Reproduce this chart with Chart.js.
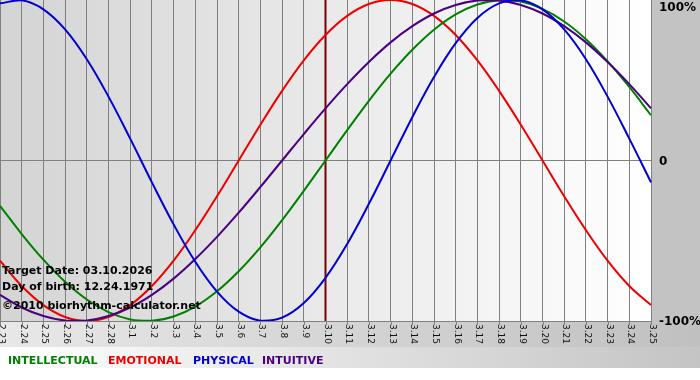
<!DOCTYPE html>
<html>
<head>
<meta charset="utf-8">
<script src="https://cdn.jsdelivr.net/npm/chart.js@4/dist/chart.umd.min.js"></script>
<style>
  html, body { margin: 0; padding: 0; background: #ffffff; }
  #wrap { width: 700px; height: 380px; position: relative; }
</style>
</head>
<body>
<div id="wrap"><canvas id="c" width="700" height="380"></canvas></div>
<script>
// ---- data ----
const dates = ['2.23','2.24','2.25','2.26','2.27','2.28','3.1','3.2','3.3','3.4','3.5','3.6','3.7','3.8','3.9','3.10',
               '3.11','3.12','3.13','3.14','3.15','3.16','3.17','3.18','3.19','3.20','3.21','3.22','3.23','3.24','3.25'];
const intellectual = [-0.282,-0.458,-0.618,-0.756,-0.866,-0.945,-0.990,-0.999,-0.972,-0.910,-0.815,-0.690,-0.541,-0.372,-0.189,
                      0.000,0.189,0.372,0.541,0.690,0.815,0.910,0.972,0.999,0.990,0.945,0.866,0.756,0.618,0.458,0.282];
const emotional = [-0.624,-0.782,-0.901,-0.975,-1.000,-0.975,-0.901,-0.782,-0.624,-0.434,-0.223,0.000,0.223,0.434,0.624,
                   0.782,0.901,0.975,1.000,0.975,0.901,0.782,0.624,0.434,0.223,0.000,-0.223,-0.434,-0.624,-0.782,-0.901];
const physical = [0.979,0.998,0.942,0.817,0.631,0.398,0.136,-0.136,-0.398,-0.631,-0.817,-0.942,-0.998,-0.979,-0.888,
                  -0.731,-0.520,-0.270,0.000,0.270,0.520,0.731,0.888,0.979,0.998,0.942,0.817,0.631,0.398,0.136,-0.136];
const intuitive = [-0.837,-0.916,-0.969,-0.997,-0.997,-0.969,-0.916,-0.837,-0.736,-0.614,-0.476,-0.325,-0.165,
                   0.000,0.165,0.325,0.476,0.614,0.736,0.837,0.916,0.969,0.997,0.997,0.969,0.916,0.837,0.736,0.614,0.476,0.325];
const seriesNames = ['INTELLECTUAL','EMOTIONAL','PHYSICAL','INTUITIVE'];
const yTickLabels = ['100%','0','-100%'];
const yTickValues = [1, 0, -1];
const targetDate = '3.10';
const infoLines = ['Target Date: 03.10.2026','Day of birth: 12.24.1971','\u00A92010 biorhythm-calculator.net'];

const colors = { INTELLECTUAL:'#008000', EMOTIONAL:'#ee0000', PHYSICAL:'#0000d0', INTUITIVE:'#4b0082' };
const FONT = '"DejaVu Sans", Verdana, sans-serif';

const decor = {
  id: 'decor',
  beforeDraw(chart) {
    const ctx = chart.ctx, a = chart.chartArea;
    ctx.save();
    // bottom label band
    let g = ctx.createLinearGradient(0, 0, 700, 0);
    g.addColorStop(0, '#e8e8e8'); g.addColorStop(1, '#c0c0c0');
    ctx.fillStyle = g;
    ctx.fillRect(0, a.bottom, 700, 347 - a.bottom);
    // legend band
    g = ctx.createLinearGradient(0, 0, 700, 0);
    g.addColorStop(0, '#ffffff'); g.addColorStop(1, '#c4c4c4');
    ctx.fillStyle = g;
    ctx.fillRect(0, 347, 700, 21);
    // right panel
    ctx.fillStyle = '#c3c3c3';
    ctx.fillRect(a.right, 0, 700 - a.right, a.bottom);
    // plot background
    g = ctx.createLinearGradient(a.left, 0, a.right, 0);
    g.addColorStop(0, '#d4d4d4'); g.addColorStop(1, '#ffffff');
    ctx.fillStyle = g;
    ctx.fillRect(a.left, a.top, a.right - a.left, a.bottom - a.top);
    ctx.restore();
  },
  beforeDatasetsDraw(chart) {
    const ctx = chart.ctx, a = chart.chartArea, xs = chart.scales.x;
    const x = xs.getPixelForValue(dates.indexOf(targetDate));
    ctx.save();
    ctx.strokeStyle = '#7a0000';
    ctx.lineWidth = 2;
    ctx.beginPath(); ctx.moveTo(x, a.top); ctx.lineTo(x, a.bottom); ctx.stroke();
    ctx.restore();
  },
  afterDraw(chart) {
    const ctx = chart.ctx, a = chart.chartArea, xs = chart.scales.x, ys = chart.scales.y;
    ctx.save();
    // bottom axis line and tick marks
    ctx.strokeStyle = '#808080'; ctx.lineWidth = 1;
    ctx.beginPath(); ctx.moveTo(a.left, a.bottom + 0.5); ctx.lineTo(a.right, a.bottom + 0.5); ctx.stroke();
    // x tick labels, rotated clockwise
    ctx.fillStyle = '#111';
    ctx.font = '9px ' + FONT;
    ctx.textAlign = 'left'; ctx.textBaseline = 'middle';
    dates.forEach((d, i) => {
      const x = Math.round(xs.getPixelForValue(i)) + 0.5;
      ctx.beginPath(); ctx.moveTo(x, a.bottom); ctx.lineTo(x, a.bottom + 4); ctx.stroke();
      ctx.save();
      ctx.translate(x + 0.5, a.bottom + 3);
      ctx.rotate(Math.PI / 2);
      ctx.fillText(d, 0, 0);
      ctx.restore();
    });
    // y labels on the right
    ctx.fillStyle = '#000';
    ctx.font = 'bold 12px ' + FONT;
    ctx.textAlign = 'left'; ctx.textBaseline = 'middle';
    yTickValues.forEach((v, i) => {
      let y = ys.getPixelForValue(v);
      if (v === 1) y += 7;
      ctx.fillText(yTickLabels[i], a.right + 8, y + 1);
    });
    // info text
    ctx.font = 'bold 11px ' + FONT;
    ctx.textAlign = 'left';
    const infoY = [271, 287, 306];
    infoLines.forEach((t, i) => ctx.fillText(t, 2, infoY[i]));
    // legend words
    const legendX = [8, 108, 193, 262];
    ctx.font = 'bold 11px ' + FONT;
    seriesNames.forEach((n, i) => {
      ctx.fillStyle = colors[n];
      ctx.fillText(n, legendX[i], 361);
    });
    ctx.restore();
  }
};

const mk = (name, data) => ({
  label: name, data, borderColor: colors[name], backgroundColor: colors[name],
  borderWidth: 2, pointRadius: 0, tension: 0.4, fill: false
});

new Chart(document.getElementById('c'), {
  type: 'line',
  data: {
    labels: dates,
    datasets: [
      mk('PHYSICAL', physical),
      mk('INTUITIVE', intuitive),
      mk('INTELLECTUAL', intellectual),
      mk('EMOTIONAL', emotional)
    ]
  },
  options: {
    responsive: false,
    animation: false,
    devicePixelRatio: 1,
    layout: { padding: { left: 0, top: 0, right: 49, bottom: 59 } },
    plugins: { legend: { display: false }, tooltip: { enabled: false } },
    scales: {
      x: {
        offset: false,
        ticks: { display: false },
        border: { display: false },
        grid: { color: '#808080', lineWidth: 1, drawTicks: false }
      },
      y: {
        min: -1, max: 1,
        ticks: { display: false, stepSize: 1 },
        border: { display: false },
        grid: { drawTicks: false, lineWidth: 1, color: (c) => (c.tick && c.tick.value === 0 ? '#808080' : 'rgba(0,0,0,0)') }
      }
    }
  },
  plugins: [decor]
});
</script>
</body>
</html>
